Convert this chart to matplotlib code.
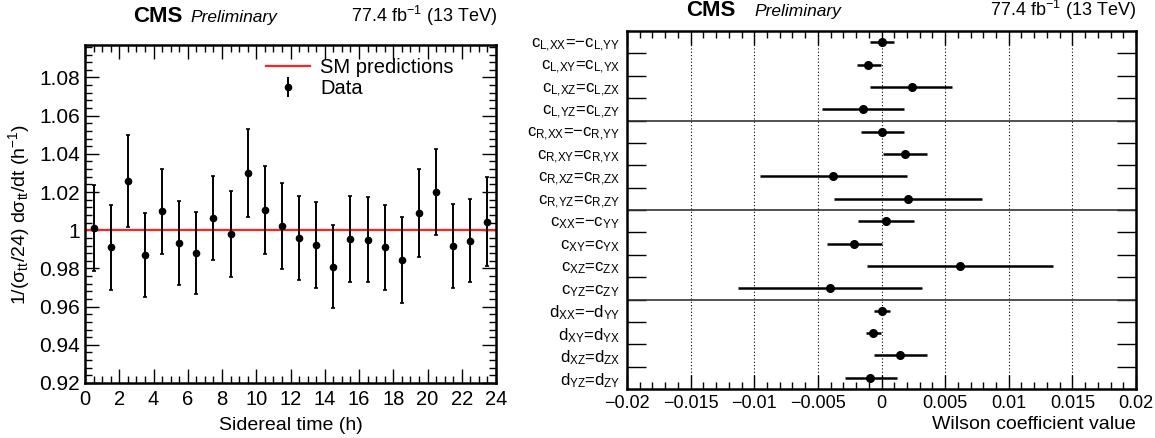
import numpy as np
import matplotlib
matplotlib.use("Agg")
import matplotlib.pyplot as plt
from matplotlib.ticker import MultipleLocator, FixedLocator
from matplotlib.lines import Line2D

plt.rcParams['font.family'] = ['Liberation Sans', 'DejaVu Sans']
plt.rcParams['mathtext.fontset'] = 'custom'
plt.rcParams['mathtext.rm'] = 'Liberation Sans'
plt.rcParams['mathtext.it'] = 'Liberation Sans:italic'
plt.rcParams['mathtext.bf'] = 'Liberation Sans:bold'

# ---------------- data: left panel ----------------
sidereal_hours = [0.5, 1.5, 2.5, 3.5, 4.5, 5.5, 6.5, 7.5, 8.5, 9.5, 10.5, 11.5,
                  12.5, 13.5, 14.5, 15.5, 16.5, 17.5, 18.5, 19.5, 20.5, 21.5, 22.5, 23.5]
data_values = [1.001, 0.991, 1.026, 0.987, 1.010, 0.9935, 0.988, 1.0065, 0.998, 1.030,
               1.0105, 1.002, 0.996, 0.9925, 0.981, 0.9955, 0.995, 0.991, 0.9845, 1.009,
               1.020, 0.9915, 0.9945, 1.0045]
data_errors = [0.0225, 0.0224, 0.0241, 0.0220, 0.0222, 0.0220, 0.0213, 0.0221, 0.0225, 0.0232,
               0.0230, 0.0225, 0.0219, 0.0225, 0.0218, 0.0225, 0.0222, 0.0222, 0.0225, 0.0232,
               0.0225, 0.0220, 0.0218, 0.0234]
sm_prediction = 1.0

# ---------------- data: right panel ----------------
coef_labels = [
    r"c$_{\mathrm{L{,}XX}}$=−c$_{\mathrm{L{,}YY}}$",
    r"c$_{\mathrm{L{,}XY}}$=c$_{\mathrm{L{,}YX}}$",
    r"c$_{\mathrm{L{,}XZ}}$=c$_{\mathrm{L{,}ZX}}$",
    r"c$_{\mathrm{L{,}YZ}}$=c$_{\mathrm{L{,}ZY}}$",
    r"c$_{\mathrm{R{,}XX}}$=−c$_{\mathrm{R{,}YY}}$",
    r"c$_{\mathrm{R{,}XY}}$=c$_{\mathrm{R{,}YX}}$",
    r"c$_{\mathrm{R{,}XZ}}$=c$_{\mathrm{R{,}ZX}}$",
    r"c$_{\mathrm{R{,}YZ}}$=c$_{\mathrm{R{,}ZY}}$",
    r"c$_{\mathrm{XX}}$=−c$_{\mathrm{YY}}$",
    r"c$_{\mathrm{XY}}$=c$_{\mathrm{YX}}$",
    r"c$_{\mathrm{XZ}}$=c$_{\mathrm{ZX}}$",
    r"c$_{\mathrm{YZ}}$=c$_{\mathrm{ZY}}$",
    r"d$_{\mathrm{XX}}$=−d$_{\mathrm{YY}}$",
    r"d$_{\mathrm{XY}}$=d$_{\mathrm{YX}}$",
    r"d$_{\mathrm{XZ}}$=d$_{\mathrm{ZX}}$",
    r"d$_{\mathrm{YZ}}$=d$_{\mathrm{ZY}}$",
]
coef_values = [0.0, -0.00103, 0.00242, -0.00145,
               0.0, 0.00184, -0.0038, 0.00209,
               0.00032, -0.00213, 0.00615, -0.00406,
               0.0, -0.00068, 0.00148, -0.00087]
coef_low = [-0.0009, -0.0019, -0.00087, -0.00464,
            -0.00161, 0.00013, -0.00956, -0.0037,
            -0.00184, -0.00431, -0.00113, -0.0113,
            -0.00058, -0.00122, -0.00058, -0.0029]
coef_high = [0.0010, -0.00006, 0.00557, 0.00177,
             0.00177, 0.00354, 0.0020, 0.00789,
             0.00258, 0.00003, 0.01346, 0.00322,
             0.00064, -0.00006, 0.00354, 0.00119]

W, H = 1155, 438
fig = plt.figure(figsize=(W / 100, H / 100), dpi=100)


def box(x0, y0, x1, y1):
    return [x0 / W, 1 - y1 / H, (x1 - x0) / W, (y1 - y0) / H]


# ---------------- left panel ----------------
axL = fig.add_axes(box(85, 45, 496, 383))
axL.axhline(sm_prediction, color='#ff2020', lw=1.6, zorder=2)
axL.errorbar(sidereal_hours, data_values, yerr=data_errors, fmt='o', color='black',
             ms=4.5, elinewidth=1.4, capsize=1.5, capthick=1.2, zorder=3)
axL.set_xlim(0, 24)
axL.set_ylim(0.92, 1.097)
axL.xaxis.set_major_locator(MultipleLocator(2))
axL.xaxis.set_minor_locator(MultipleLocator(0.5))
axL.yaxis.set_major_locator(MultipleLocator(0.02))
axL.yaxis.set_minor_locator(MultipleLocator(0.004))
axL.yaxis.set_major_formatter(matplotlib.ticker.FuncFormatter(
    lambda v, p: '1' if abs(v - 1) < 1e-9 else f'{v:.2f}'))
axL.tick_params(which='both', direction='in', top=True, right=True)
axL.tick_params(axis='y', labelsize=15)
axL.tick_params(axis='x', labelsize=14.5)
axL.tick_params(which='major', length=10, width=1.0)
axL.tick_params(which='minor', length=5, width=1.0)
axL.tick_params(axis='x', which='major', pad=5)
for s in axL.spines.values():
    s.set_linewidth(1.8)
axL.set_xlabel('Sidereal time (h)', fontsize=14, labelpad=6)
axL.set_ylabel(r'1/(σ$_{\mathrm{tt}}$/24) dσ$_{\mathrm{tt}}$/dt (h$^{\mathrm{-1}}$)',
               fontsize=14, labelpad=5)
legline = Line2D([0], [0], color='#ff2020', lw=1.6)
legdata = axL.errorbar([], [], yerr=[], fmt='o', color='black', ms=4.5,
                       elinewidth=1.4, capsize=1.5)
axL.legend([legline, legdata], ['SM predictions', 'Data'],
           loc='upper left', bbox_to_anchor=(0.42, 0.985), frameon=False,
           fontsize=14.5, handlelength=2.2, handletextpad=0.5,
           labelspacing=0.1, borderaxespad=0)

fig.text(133 / W, 1 - 22 / H, 'CMS', fontsize=16, fontweight='bold', va='baseline')
fig.text(190 / W, 1 - 22 / H, 'Preliminary', fontsize=12.5, style='italic', va='baseline')
fig.text(497 / W, 1 - 22 / H, r'77.4 fb$^{\mathrm{-1}}$ (13 TeV)', fontsize=13,
         ha='right', va='baseline')

# ---------------- right panel ----------------
axR = fig.add_axes(box(627, 31, 1136, 389))
n = len(coef_labels)
ypos = np.arange(n)[::-1]
vals = np.array(coef_values)
xerr = np.vstack([vals - np.array(coef_low), np.array(coef_high) - vals])
axR.errorbar(vals, ypos, xerr=xerr, fmt='o', color='black', ms=5.5,
             elinewidth=1.8, capsize=0, zorder=3)
axR.set_xlim(-0.02, 0.02)
axR.set_ylim(-0.5, n - 0.5)
axR.xaxis.set_major_locator(MultipleLocator(0.005))
axR.xaxis.set_minor_locator(MultipleLocator(0.001))
axR.xaxis.set_major_formatter(matplotlib.ticker.FuncFormatter(
    lambda v, p: '0' if abs(v) < 1e-12 else ('%g' % v).replace('-', '−')))
for gx in [-0.015, -0.01, -0.005, 0.0, 0.005, 0.01, 0.015]:
    axR.axvline(gx, color='black', lw=0.8, ls=(0, (1, 2)), zorder=1)
for sep in [11.5, 7.5, 3.5]:
    axR.axhline(sep, color='#333333', lw=1.2, zorder=2)
axR.yaxis.set_major_locator(FixedLocator(ypos))
axR.set_yticklabels(coef_labels)
axR.yaxis.set_minor_locator(FixedLocator(np.arange(n - 1) + 0.5))
axR.tick_params(axis='y', which='major', length=0, labelsize=12, pad=5)
axR.tick_params(axis='y', which='minor', length=14, width=1.0, direction='in',
                left=True, right=True)
axR.tick_params(axis='x', which='both', direction='in', top=True, labelsize=13)
axR.tick_params(axis='x', which='major', length=10, width=1.0, pad=4)
axR.tick_params(axis='x', which='minor', length=5, width=1.0)
for s in axR.spines.values():
    s.set_linewidth(1.8)
axR.set_xlabel('Wilson coefficient value', fontsize=14, loc='right', labelpad=3)

fig.text(686 / W, 1 - 16 / H, 'CMS', fontsize=16, fontweight='bold', va='baseline')
fig.text(754 / W, 1 - 16 / H, 'Preliminary', fontsize=12.5, style='italic', va='baseline')
fig.text(1136 / W, 1 - 16 / H, r'77.4 fb$^{\mathrm{-1}}$ (13 TeV)', fontsize=13,
         ha='right', va='baseline')

fig.savefig('out.png', dpi=100)
